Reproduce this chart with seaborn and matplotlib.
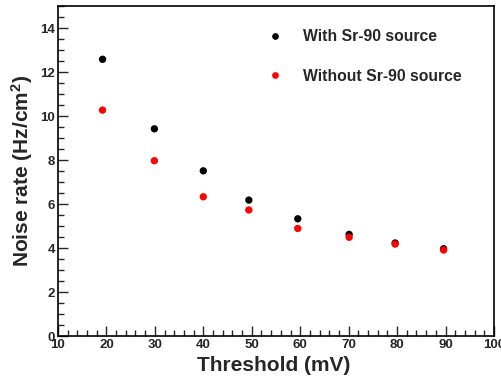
import matplotlib
matplotlib.use('Agg')
import matplotlib.pyplot as plt
from matplotlib.ticker import MultipleLocator
import seaborn as sns
import pandas as pd

# values
threshold = [19.2, 29.9, 40.0, 49.4, 59.5, 70.1, 79.6, 89.6]
rate_with = [12.58, 9.42, 7.51, 6.18, 5.33, 4.62, 4.23, 3.97]
rate_without = [10.27, 7.97, 6.33, 5.73, 4.89, 4.49, 4.18, 3.91]
series = ['With Sr-90 source', 'Without Sr-90 source']

df = pd.concat([
    pd.DataFrame({'Threshold': threshold, 'Rate': rate_with, 'Source': series[0]}),
    pd.DataFrame({'Threshold': threshold, 'Rate': rate_without, 'Source': series[1]}),
])

sns.set_style('ticks')
plt.rcParams['font.family'] = ['Liberation Sans', 'DejaVu Sans']
plt.rcParams['font.weight'] = 'bold'
plt.rcParams['mathtext.fontset'] = 'custom'
plt.rcParams['mathtext.bf'] = 'Liberation Sans:bold'
plt.rcParams['mathtext.rm'] = 'Liberation Sans:bold'
plt.rcParams['mathtext.default'] = 'bf'

fig = plt.figure(figsize=(5.02, 3.78), dpi=100)
ax = fig.add_axes([0.1155, 0.111, 0.8685, 0.873])

sns.scatterplot(data=df, x='Threshold', y='Rate', hue='Source',
                palette={series[0]: 'black', series[1]: '#ff0000'},
                s=28, linewidth=0, ax=ax, legend=False)

# legend drawn like the reference (no frame, small markers)
for name, col in zip(series, ['black', '#ff0000']):
    ax.plot([], [], 'o', color=col, markersize=3.8, label=name)
leg = ax.legend(loc='upper left', bbox_to_anchor=(0.462, 0.948), frameon=False,
                fontsize=11.3, handletextpad=1.15, labelspacing=1.55,
                borderaxespad=0, handlelength=1.2)
for t in leg.get_texts():
    t.set_fontweight('bold')

ax.set_xlim(10, 100)
ax.set_ylim(0, 15)
ax.xaxis.set_major_locator(MultipleLocator(10))
ax.xaxis.set_minor_locator(MultipleLocator(2))
ax.yaxis.set_major_locator(MultipleLocator(2))
ax.yaxis.set_minor_locator(MultipleLocator(0.5))
ax.tick_params(which='both', top=False, right=False)
ax.tick_params(which='major', direction='in', length=7, width=1, labelsize=9.5, pad=2)
ax.tick_params(which='minor', direction='in', length=4, width=1)
for lab in ax.get_xticklabels() + ax.get_yticklabels():
    lab.set_fontweight('bold')

for sp in ax.spines.values():
    sp.set_linewidth(1.2)
    sp.set_color('black')

ax.set_xlabel('Threshold (mV)', fontsize=15, fontweight='bold')
ax.set_ylabel('Noise rate (Hz/cm$^2$)', fontsize=15, fontweight='bold', labelpad=4)
ax.xaxis.set_label_coords(0.495, -0.06)

fig.savefig('out.png', dpi=100)
